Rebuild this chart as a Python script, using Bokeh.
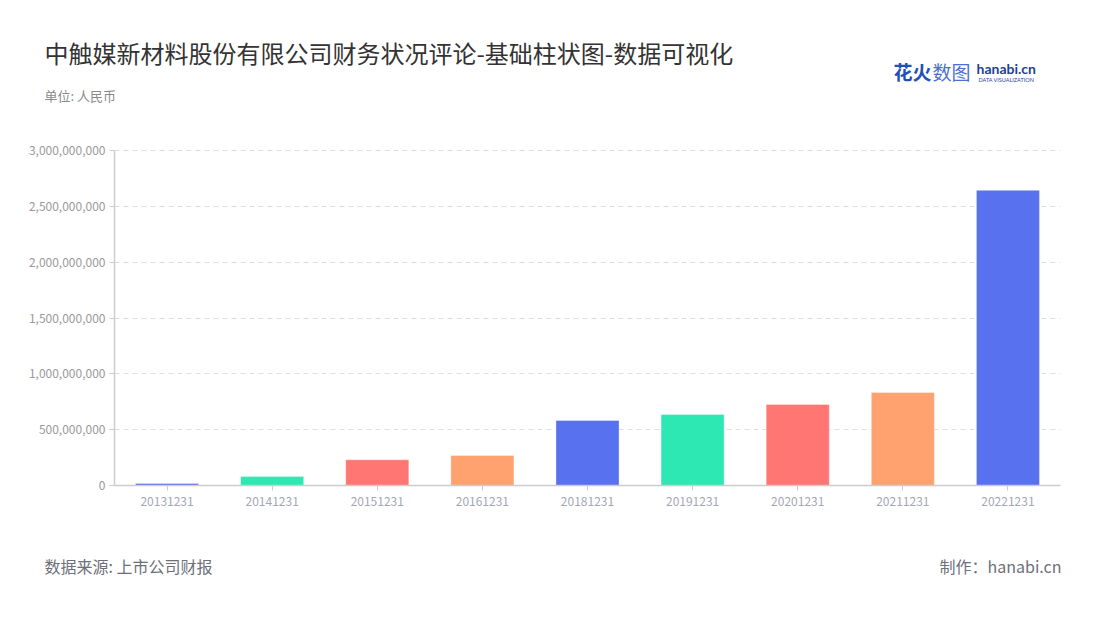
from bokeh.plotting import figure
from bokeh.models import Label, NumeralTickFormatter, FixedTicker, ColumnDataSource, Range1d
from bokeh.embed import file_html
from bokeh.resources import INLINE

categories = ["20131231", "20141231", "20151231", "20161231", "20181231",
              "20191231", "20201231", "20211231", "20221231"]
values = [18000000, 80000000, 230000000, 268000000, 582000000,
          636000000, 726000000, 833000000, 2643000000]
palette = ["#5871ee", "#2ee8b4", "#ff7672", "#ffa26f"]
colors = [palette[i % 4] for i in range(len(categories))]
y_ticks = [0, 500000000, 1000000000, 1500000000, 2000000000, 2500000000, 3000000000]
y_max = 3000000000

title_text = "中触媒新材料股份有限公司财务状况评论-基础柱状图-数据可视化"
unit_text = "单位: 人民币"
source_text = "数据来源: 上市公司财报"
maker_text = "制作：hanabi.cn"

FONT = "Noto Sans CJK SC"

# plot-area placement on the canvas (pixels)
L, R, T, B = 114, 1060, 150, 485
W, H = 1084, 600

n = len(categories)
xpos = [i + 0.5 for i in range(n)]
src = ColumnDataSource(dict(x=xpos, val=values, color=colors))

ppx = (R - L) / n
ppy = (B - T) / y_max
x_rng = Range1d(-L / ppx, n + (W - R) / ppx)
y_rng = Range1d(-(H - B) / ppy, y_max + T / ppy)

p = figure(width=W, height=H, x_range=x_rng, y_range=y_rng,
           output_backend="svg", toolbar_location=None,
           min_border_left=0, min_border_right=0, min_border_top=0, min_border_bottom=0)
p.outline_line_color = None
p.background_fill_color = "white"
p.border_fill_color = "white"

# grid
p.xgrid.grid_line_color = None
p.ygrid.grid_line_color = "#dddddd"
p.ygrid.grid_line_dash = "5 4"
p.ygrid.ticker = FixedTicker(ticks=y_ticks[1:])
p.ygrid.bounds = (0, y_max)
p.ygrid.cross_bounds = (0, n)

p.vbar(x="x", top="val", width=0.6, source=src, fill_color="color",
       line_color="white", line_alpha=0.35, line_width=1)

p.xaxis.ticker = FixedTicker(ticks=xpos)
p.xaxis.major_label_overrides = {x: c for x, c in zip(xpos, categories)}
p.xaxis.fixed_location = 0
p.xaxis.bounds = (0, n)
p.yaxis.ticker = FixedTicker(ticks=y_ticks)
p.yaxis.formatter = NumeralTickFormatter(format="0,0")
p.yaxis.fixed_location = 0
p.yaxis.bounds = (0, y_max)
for ax in [p.xaxis[0], p.yaxis[0]]:
    ax.axis_line_color = "#cccccc"
    ax.axis_line_width = 1.5
    ax.major_tick_line_color = "#cccccc"
    ax.major_tick_out = 5
    ax.major_tick_in = 0
    ax.minor_tick_line_color = None
    ax.major_label_text_font = FONT
    ax.major_label_text_font_size = "12px"
p.yaxis.major_label_text_color = "#999999"
p.xaxis.major_label_text_color = "#a3a7b5"
p.yaxis.major_label_standoff = 4
p.xaxis.major_label_standoff = 6


def lab(x, y, text, size, color, align="left", style="normal", font=FONT, baseline="middle"):
    p.add_layout(Label(x=x, y=y, x_units="canvas", y_units="canvas", text=text,
                       text_font=font, text_font_size=size, text_color=color,
                       text_align=align, text_baseline=baseline, text_font_style=style))


lab(44, 52, title_text, "24px", "#333333")
lab(44, 95, unit_text, "13px", "#8a8a8a")
lab(44, 565, source_text, "16px", "#6e7079")
lab(1061, 565, maker_text, "16px", "#6e7079", align="right")

# logo
lab(893, 71, "花火", "19px", "#2350b8", style="bold")
lab(932, 71, "数图", "19px", "#4a6fd0")
lab(976, 68, "hanabi.cn", "14px", "#1d3f95", style="bold", font="Lato")
lab(978, 79, "DATA VISUALIZATION", "5.5px", "#1d3f95", font="Lato")

open("out.html", "w").write(file_html(p, INLINE))
